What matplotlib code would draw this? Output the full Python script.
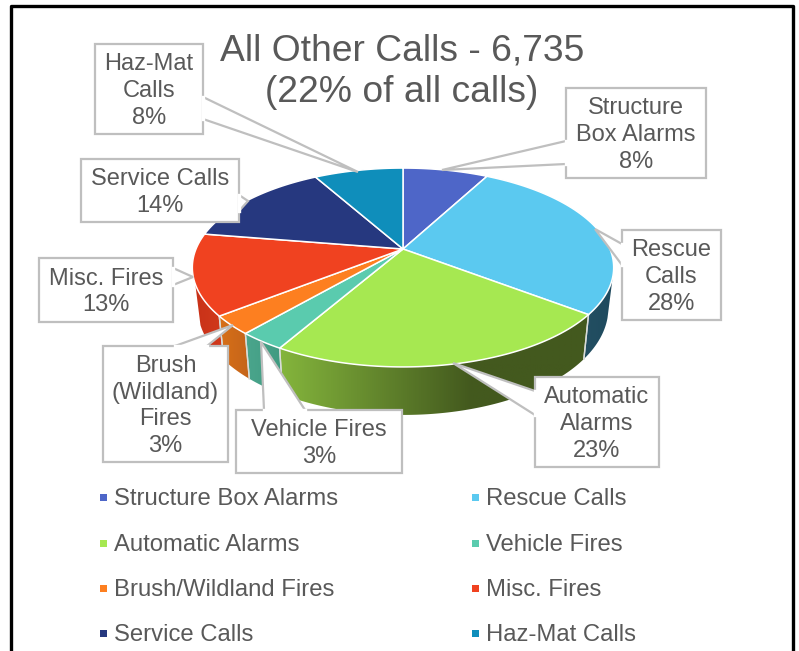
import numpy as np
import matplotlib
matplotlib.use('Agg')
import matplotlib.pyplot as plt
from matplotlib.patches import Polygon, Rectangle
from matplotlib.colors import LinearSegmentedColormap

plt.rcParams['font.family'] = ['Liberation Sans', 'DejaVu Sans']

# shares of the calls, clockwise from twelve o'clock
categories = ['Structure Box Alarms', 'Rescue Calls', 'Automatic Alarms', 'Vehicle Fires',
              'Brush/Wildland Fires', 'Misc. Fires', 'Service Calls', 'Haz-Mat Calls']
values = [8, 28, 23, 3, 3, 13, 14, 8]
label_names = ['Structure\nBox Alarms', 'Rescue\nCalls', 'Automatic\nAlarms', 'Vehicle Fires',
               'Brush\n(Wildland)\nFires', 'Misc. Fires', 'Service Calls', 'Haz-Mat\nCalls']
top_colors = ['#4E66C8', '#5BC9F0', '#A6E851', '#5ACBAE', '#FD7F20', '#F04220', '#26387F', '#0F8EBB']
# wall gradient per slice, left colour to right colour
wall_colors = [('#3A4C96', '#3A4C96'), ('#234F62', '#1F4A5E'), ('#84B53C', '#43591E'),
               ('#4BA68D', '#3F9A80'), ('#D87018', '#C4641A'), ('#C93118', '#D13A1C'),
               ('#1C2A60', '#1C2A60'), ('#0B6A8C', '#0B6A8C')]
title = 'All Other Calls - 6,735\n(22% of all calls)'

# callout boxes: x0, y0, x1, y1, pointer base a, tip, pointer base b
boxes = [
    (566, 88, 706, 178, (566, 141), (442, 170), (566, 164)),
    (622, 230, 721, 320, (622, 244), (595, 229), (622, 265)),
    (535, 377, 659, 467, (535, 391), (453, 363), (535, 415)),
    (236, 410, 402, 473, (264, 410), (261, 342), (305, 410)),
    (103, 346, 228, 462, (175, 346), (233, 325), (207, 346)),
    (39, 258, 173, 322, (173, 268), (193, 277), (173, 285)),
    (81, 159, 239, 222, (239, 195), (248, 201), (239, 211)),
    (95, 44, 203, 134, (203, 97), (358, 172), (203, 119)),
]

# pie seen in perspective
cx, cy = 403, 249
R, A, K = 207, 96, 0.186
wall_start, wall_end = np.radians(108), np.radians(252)


def project(theta, scale=1.0):
    # slight angular squeeze from the camera tilt
    t = theta - np.radians(2.5) * np.sin(theta / 2)
    x, y = np.sin(t), np.cos(t)
    d = 1 + K * y
    return cx + scale * R * x / d, cy - scale * A * y / d


def project_bottom(theta):
    # wall gets taller toward the viewer
    xs, ys = project(theta, 0.975)
    _, y_top = project(theta)
    return xs, y_top + 38 - 10 * np.cos(theta)


fig = plt.figure(figsize=(7.99, 6.51), dpi=100)
ax = fig.add_axes([0, 0, 1, 1])

# chart frame runs off the bottom edge
ax.plot([11, 11, 793, 793], [651, 6, 6, 651], color='black', lw=2.4, zorder=1)

edges = np.concatenate([[0], np.cumsum(values)]) / sum(values) * 2 * np.pi

# front wall, drawn from the back round to the front
wall_order = [1, 5, 4, 3, 2]
for i in wall_order:
    t0, t1 = max(edges[i], wall_start), min(edges[i + 1], wall_end)
    th = np.linspace(t0, t1, 120)
    xs, ys = project(th)
    xb, yb = project_bottom(th)
    pts = np.column_stack([np.r_[xs, xb[::-1]], np.r_[ys, yb[::-1]]])
    cmap = LinearSegmentedColormap.from_list('wall', wall_colors[i])
    x0, x1 = pts[:, 0].min(), pts[:, 0].max()
    # green wall reaches its dark end well before the right side
    ramp = np.linspace(0, 1, 256)
    if i == 2:
        ramp = np.clip(ramp / 0.62, 0, 1)
    im = ax.imshow(ramp.reshape(1, -1), cmap=cmap, aspect='auto',
                   extent=[x0, x1, pts[:, 1].max(), pts[:, 1].min()], zorder=2)
    im.set_clip_path(Polygon(pts, transform=ax.transData))
    # pale seams where two slices meet
    if t0 == edges[i]:
        ax.plot([xs[0], xb[0]], [ys[0], yb[0]], color='#D8DCD8', lw=1.0, zorder=3)
    if t1 == edges[i + 1]:
        ax.plot([xs[-1], xb[-1]], [ys[-1], yb[-1]], color='#D8DCD8', lw=1.0, zorder=3)

# top face
for i, c in enumerate(top_colors):
    th = np.linspace(edges[i], edges[i + 1], 100)
    xs, ys = project(th)
    ax.add_patch(Polygon(np.column_stack([np.r_[cx, xs], np.r_[cy, ys]]), closed=True, fc=c,
                         ec='white', lw=1.1, joinstyle='round', zorder=4))

# callout labels
for b, name, v in zip(boxes, label_names, values):
    x0, y0, x1, y1, pa, tip, pb = b
    ax.add_patch(Rectangle((x0, y0), x1 - x0, y1 - y0, fc='white', ec='#BFBFBF', lw=1.6, zorder=5))
    ax.add_patch(Polygon([pa, tip, pb], closed=False, fc='white', ec='#BFBFBF', lw=1.6, zorder=5,
                         joinstyle='miter'))
    # hide the box edge under the pointer mouth
    ax.plot([pa[0], pb[0]], [pa[1], pb[1]], color='white', lw=2.4, zorder=5.5)
    ax.text((x0 + x1) / 2, (y0 + y1) / 2 + 2, f'{name}\n{v}%', ha='center', va='center',
            fontsize=17, color='#595959', linespacing=1.27, zorder=6)

ax.text(402, 72, title, ha='center', va='center', fontsize=26.8, color='#595959',
        linespacing=1.25, zorder=6)

# legend in two columns
rows_y = [497, 543, 588, 633]
for i, (name, c) in enumerate(zip(categories, top_colors)):
    col, row = i % 2, i // 2
    mx = 103 if col == 0 else 475
    ax.add_patch(Rectangle((mx - 3.5, rows_y[row] - 3.5), 7, 7, fc=c, ec='none', zorder=6))
    ax.text(mx + 11, rows_y[row] + 8, name, ha='left', va='baseline', fontsize=17.2, color='#595959', zorder=6)

ax.set_xlim(0, 799)
ax.set_ylim(651, 0)
ax.axis('off')
fig.savefig('out.png', dpi=100, facecolor='white')
